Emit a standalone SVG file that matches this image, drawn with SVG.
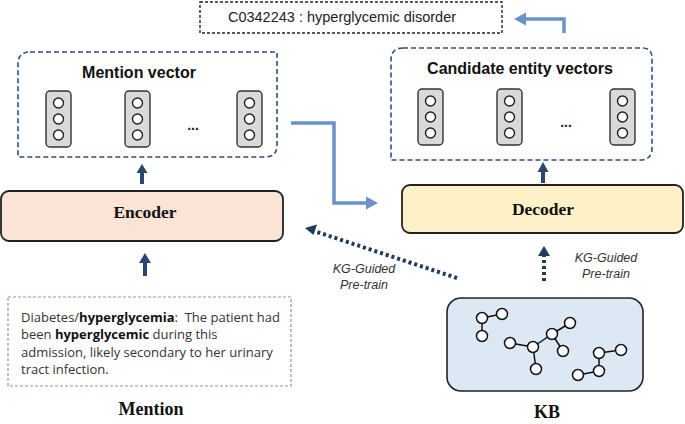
<svg xmlns="http://www.w3.org/2000/svg" width="685" height="424" viewBox="0 0 685 424">
<style>
.dash{fill:none;stroke:#2e4e7e;stroke-width:1.6;stroke-dasharray:5 3}
.cell{fill:#d9d9d9;stroke:#333;stroke-width:1.4}
.dot{fill:#fff;stroke:#222;stroke-width:1.4}
.title{font-family:"Liberation Sans",Arial,sans-serif;font-weight:bold;font-size:16px;fill:#111}
.ell{font-family:"Liberation Sans",Arial,sans-serif;font-weight:bold;font-size:14px;fill:#222}
.ser{font-family:"Liberation Serif","Times New Roman",serif;font-weight:bold;fill:#111}
.it{font-family:"Liberation Sans",Arial,sans-serif;font-style:italic;font-size:12.5px;fill:#333}
.body{font-family:"Open Sans","Liberation Sans",Arial,sans-serif;font-size:13px;fill:#333}
.gn{fill:#fff;stroke:#111;stroke-width:1.5}
.ge{stroke:#111;stroke-width:1.5}
.lb{fill:none;stroke:#6a92c8;stroke-width:3.5}
.nv{stroke:#2b4670;stroke-width:4;fill:none}
.dots{stroke:#1f3a60;stroke-width:4;fill:none;stroke-dasharray:3 3}
</style>
<defs>
<g id="vec">
<rect class="cell" x="0" y="0" width="25" height="56" rx="4"/>
<circle class="dot" cx="12.5" cy="12" r="5"/>
<circle class="dot" cx="12.5" cy="28" r="5"/>
<circle class="dot" cx="12.5" cy="44" r="5"/>
</g>
</defs>

<g id="result">
<rect x="200" y="2" width="302" height="31" fill="#fff" stroke="#222" stroke-width="1.4" stroke-dasharray="3 2"/>
<text x="342" y="22" text-anchor="middle" font-family="'Liberation Sans',Arial,sans-serif" font-size="14.5" fill="#222">C0342243 : hyperglycemic disorder</text>
</g>

<g id="mention-vector">
<path class="dash" d="M30,52 H277 V145 Q277,157 265,157 H18 V64 Q18,52 30,52 Z"/>
<text class="title" x="139" y="78" text-anchor="middle">Mention vector</text>
<use href="#vec" x="46" y="91"/>
<use href="#vec" x="125" y="91"/>
<use href="#vec" x="237" y="91"/>
<text class="ell" x="193" y="130" text-anchor="middle">...</text>
</g>

<g id="candidate-vectors">
<path class="dash" d="M403,48 H642 Q652,48 652,58 V148 Q652,160 640,160 H391 V60 Q391,48 403,48 Z"/>
<text class="title" x="520" y="74" text-anchor="middle">Candidate entity vectors</text>
<use href="#vec" x="418" y="89"/>
<use href="#vec" x="497" y="89"/>
<use href="#vec" x="610" y="89"/>
<text class="ell" x="566" y="127" text-anchor="middle">...</text>
</g>

<g id="encoder">
<rect x="1" y="191" width="282" height="50" rx="8" fill="#fbe4d5" stroke="#222" stroke-width="1.8"/>
<text class="ser" x="145" y="218" text-anchor="middle" font-size="17.5">Encoder</text>
</g>

<g id="decoder">
<rect x="402" y="185" width="281" height="48" rx="8" fill="#fef0c7" stroke="#222" stroke-width="1.8"/>
<text class="ser" x="543" y="215" text-anchor="middle" font-size="17.5">Decoder</text>
</g>

<g id="mention-text">
<rect x="8" y="297" width="283" height="89" fill="#fff" stroke="#7a9cc4" stroke-width="1.2" stroke-dasharray="3 2"/>
<text class="body" x="21" y="322" xml:space="preserve">Diabetes/<tspan font-weight="bold" fill="#111">hyperglycemia</tspan>:  The patient had</text>
<text class="body" x="21" y="339">been <tspan font-weight="bold" fill="#111">hyperglycemic</tspan> during this</text>
<text class="body" x="21" y="357">admission, likely secondary to her urinary</text>
<text class="body" x="21" y="374">tract infection.</text>
<text class="ser" x="151" y="415" text-anchor="middle" font-size="18">Mention</text>
</g>

<g id="kb">
<rect x="447" y="298" width="196" height="93" rx="14" fill="#dde8f5" stroke="#222" stroke-width="1.6"/>
<g>
<line class="ge" x1="482" y1="318" x2="502" y2="314"/>
<line class="ge" x1="482" y1="318" x2="482" y2="336"/>
<line class="ge" x1="510" y1="343" x2="533" y2="347"/>
<line class="ge" x1="533" y1="347" x2="552" y2="334"/>
<line class="ge" x1="552" y1="334" x2="570" y2="323"/>
<line class="ge" x1="552" y1="334" x2="563" y2="351"/>
<line class="ge" x1="533" y1="347" x2="536" y2="369"/>
<line class="ge" x1="599" y1="353" x2="621" y2="350"/>
<line class="ge" x1="599" y1="353" x2="599" y2="371"/>
<line class="ge" x1="599" y1="371" x2="578" y2="375"/>
<circle class="gn" cx="482" cy="318" r="5.5"/>
<circle class="gn" cx="502" cy="314" r="5.5"/>
<circle class="gn" cx="482" cy="336" r="5.5"/>
<circle class="gn" cx="510" cy="343" r="5.5"/>
<circle class="gn" cx="533" cy="347" r="5.5"/>
<circle class="gn" cx="552" cy="334" r="5.5"/>
<circle class="gn" cx="570" cy="323" r="5.5"/>
<circle class="gn" cx="563" cy="351" r="5.5"/>
<circle class="gn" cx="536" cy="369" r="5.5"/>
<circle class="gn" cx="599" cy="353" r="5.5"/>
<circle class="gn" cx="621" cy="350" r="5.5"/>
<circle class="gn" cx="599" cy="371" r="5.5"/>
<circle class="gn" cx="578" cy="375" r="5.5"/>
</g>
<text class="ser" x="547" y="418" text-anchor="middle" font-size="18">KB</text>
</g>

<g id="connectors">
<path class="lb" d="M564,33 V19 H525"/>
<polygon points="514,19 526,12.5 526,25.5" fill="#6a92c8"/>
<path class="lb" d="M291,123 H334 V203 H368"/>
<polygon points="378,203 366,196.5 366,209.5" fill="#6a92c8"/>
<line class="nv" x1="142" y1="184" x2="142" y2="172"/>
<polygon points="142,164 136.5,173 147.5,173" fill="#2b4670"/>
<line class="nv" x1="145" y1="276" x2="145" y2="262"/>
<polygon points="145,253 139,263 151,263" fill="#2b4670"/>
<line class="nv" x1="543" y1="183" x2="543" y2="171"/>
<polygon points="543,162 537.5,172 548.5,172" fill="#2b4670"/>
<line class="dots" x1="544" y1="281" x2="544" y2="256"/>
<polygon points="544,246 538,256 550,256" fill="#1f3a60"/>
<line class="dots" x1="457" y1="278" x2="314" y2="231"/>
<polygon points="305,228 317,224.5 313.5,235" fill="#1f3a60"/>
<text class="it" x="364" y="273" text-anchor="middle">KG-Guided</text>
<text class="it" x="364" y="289" text-anchor="middle">Pre-train</text>
<text class="it" x="606" y="262" text-anchor="middle">KG-Guided</text>
<text class="it" x="606" y="278" text-anchor="middle">Pre-train</text>
</g>
</svg>
